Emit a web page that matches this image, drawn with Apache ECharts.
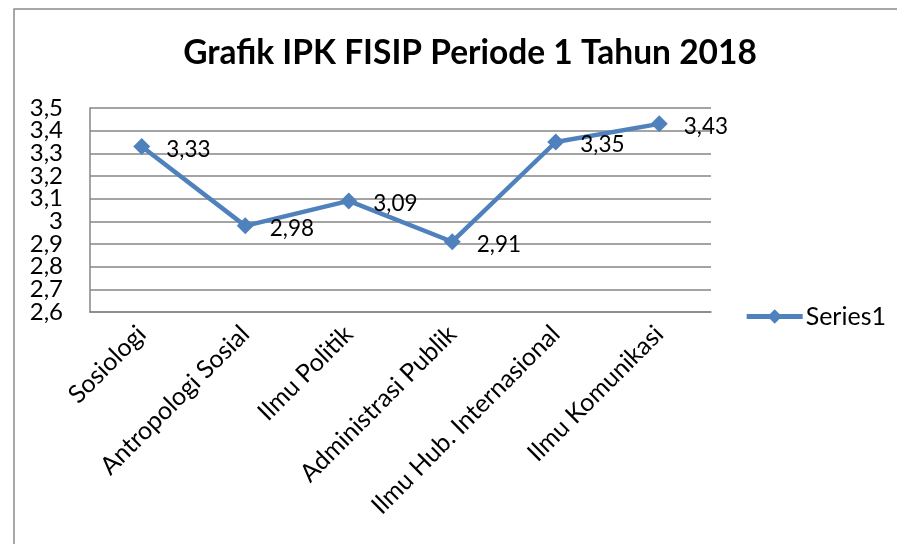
<!DOCTYPE html>
<html><head><meta charset="utf-8">
<script src="https://cdn.jsdelivr.net/npm/echarts@6/dist/echarts.min.js"></script>
<style>html,body{margin:0;padding:0;background:#fff}#c{width:897px;height:544px}</style>
</head><body><div id="c"></div>
<script>
var categories = ['Sosiologi','Antropologi Sosial','Ilmu Politik','Administrasi Publik','Ilmu Hub. Internasional','Ilmu Komunikasi'];
var series1 = [3.33, 2.98, 3.09, 2.91, 3.35, 3.43];
var yMin = 2.6, yMax = 3.5, yStep = 0.1;
var yTickLabels = ['2,6','2,7','2,8','2,9','3','3,1','3,2','3,3','3,4','3,5'];
var chart = echarts.init(document.getElementById('c'));
var FONT = 'Lato';
chart.setOption({
  animation: false,
  backgroundColor: '#fff',
  graphic: [{type:'rect', shape:{x:14,y:9,width:1000,height:1000}, style:{fill:'none', stroke:'#8c8c8c', lineWidth:1.5}, z:-1}],
  title: {text:'Grafik IPK FISIP Periode 1 Tahun 2018', left:465, textAlign:'center', top:31,
    textStyle:{fontFamily:FONT, fontWeight:'bold', fontSize:33.5, color:'#000'}},
  legend: {right:6, top:299, itemWidth:56, itemHeight:18, itemGap:4,
    lineStyle:{width:5},
    textStyle:{fontFamily:FONT, fontSize:25, color:'#000', padding:[0,0,0,-2]}, data:['Series1']},
  grid: {left:90, right:186, top:108, bottom:232, containLabel:false},
  xAxis: {type:'category', data:categories, boundaryGap:true,
    axisLine:{lineStyle:{color:'#868686', width:1.5}}, axisTick:{show:false},
    axisLabel:{rotate:45, interval:0, margin:18, color:'#000', fontFamily:FONT, fontSize:25}},
  yAxis: [
    {type:'value', min:yMin, max:yMax, interval:yStep,
      axisLine:{show:true, lineStyle:{color:'#868686', width:1.5}}, axisTick:{show:false},
      splitLine:{lineStyle:{color:'#868686', width:1.5}},
      axisLabel:{show:false}},
    {type:'category', data:yTickLabels, boundaryGap:false, position:'left',
      axisLine:{show:false}, axisTick:{show:false}, splitLine:{show:false},
      axisLabel:{interval:0, margin:27, color:'#000', fontFamily:FONT, fontSize:24}}
  ],
  series: [{name:'Series1', type:'line', yAxisIndex:0, data:series1, symbol:'diamond', symbolSize:17,
    lineStyle:{color:'#4F81BD', width:4.5}, itemStyle:{color:'#4F81BD'},
    label:{show:true, position:'right', distance:16, offset:[0,3], color:'#000', fontFamily:FONT, fontSize:22.5,
      formatter:function(p){return p.value.toFixed(2).replace('.',',');}}}]
});
</script></body></html>
